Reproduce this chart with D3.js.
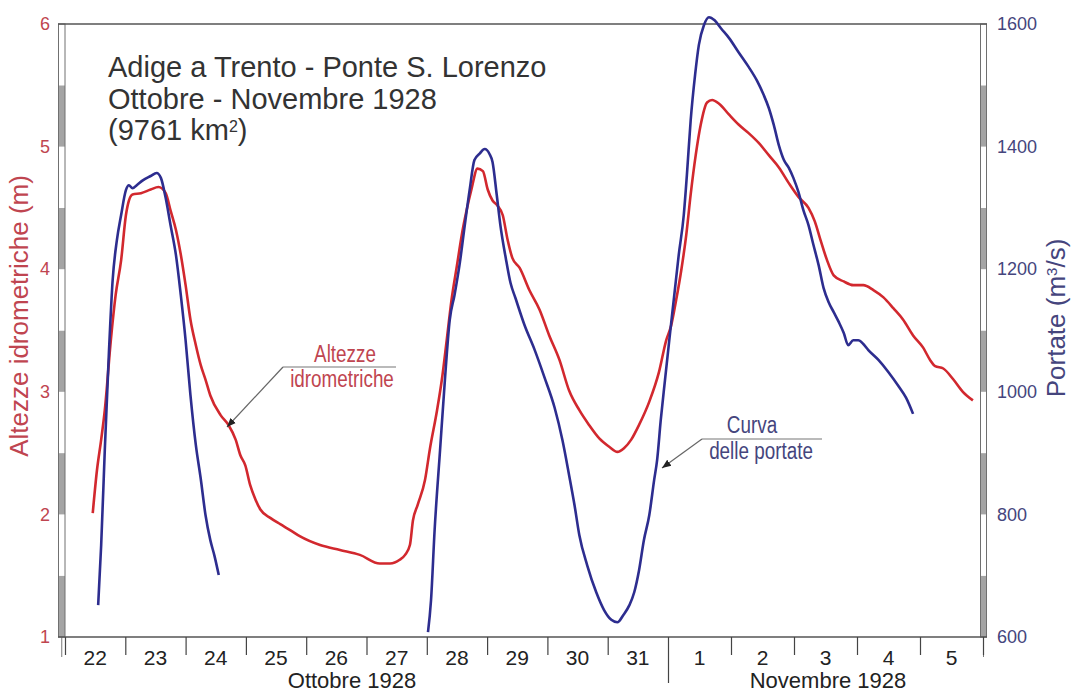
<!DOCTYPE html>
<html>
<head>
<meta charset="utf-8">
<script src="https://cdn.jsdelivr.net/npm/d3@7"></script>
<style>
  html, body { margin: 0; padding: 0; background: #fff; }
  svg { display: block; font-family: Arial, "Liberation Sans", sans-serif; }
</style>
</head>
<body>
<svg id="chart" width="1072" height="693"></svg>
<script>
// Gauge heights (m): time in days from 22 Oct 1928 00:00
const altezzeGiorno = [0.46,0.53,0.60,0.66,0.76,0.84,0.93,1.01,1.06,1.12,1.26,1.42,1.55,1.67,1.75,1.84,1.92,2.00,2.08,2.17,2.25,2.33,2.41,2.58,2.71,2.83,2.91,2.99,3.07,3.16,3.24,3.41,3.57,3.74,3.90,4.23,4.56,4.89,5.22,5.39,5.55,5.64,5.72,5.77,5.85,5.97,6.05,6.17,6.25,6.33,6.41,6.50,6.58,6.66,6.74,6.84,6.93,7.01,7.09,7.17,7.26,7.34,7.42,7.54,7.70,7.87,8.03,8.20,8.36,8.53,8.69,8.86,9.03,9.16,9.27,9.39,9.52,9.69,9.85,9.97,10.05,10.13,10.21,10.29,10.36,10.44,10.52,10.62,10.70,10.81,10.97,11.12,11.28,11.44,11.60,11.76,11.92,12.07,12.23,12.33,12.42,12.52,12.63,12.79,12.94,13.10,13.26,13.42,13.58,13.73,13.89,14.05,14.16,14.24,14.37,14.53,14.68,14.84];
const altezzeM = [2.01,2.36,2.61,2.85,3.42,3.79,4.07,4.44,4.56,4.61,4.62,4.65,4.67,4.62,4.48,4.32,4.12,3.87,3.59,3.38,3.22,3.10,2.97,2.81,2.73,2.61,2.48,2.40,2.24,2.12,2.04,1.97,1.92,1.87,1.82,1.75,1.71,1.67,1.60,1.60,1.63,1.67,1.75,1.95,2.08,2.28,2.53,2.85,3.10,3.42,3.75,4.03,4.28,4.48,4.65,4.82,4.80,4.65,4.56,4.52,4.44,4.24,4.09,4.01,3.83,3.67,3.46,3.26,3.01,2.85,2.73,2.62,2.55,2.51,2.54,2.61,2.73,2.92,3.16,3.42,3.54,3.75,3.99,4.28,4.61,4.93,5.18,5.36,5.38,5.35,5.26,5.18,5.11,5.03,4.93,4.83,4.70,4.59,4.50,4.39,4.24,4.08,3.95,3.90,3.87,3.87,3.83,3.77,3.68,3.59,3.46,3.36,3.26,3.21,3.19,3.10,3.00,2.93];

// Discharge (m³/s), first flood wave
const portateGiorno1 = [0.55,0.60,0.66,0.73,0.79,0.86,0.93,1.01,1.06,1.12,1.19,1.29,1.42,1.52,1.59,1.67,1.75,1.84,1.92,2.00,2.08,2.17,2.25,2.33,2.41,2.48,2.55];
const portateQ1 = [652,750,905,1068,1182,1247,1288,1329,1337,1332,1337,1345,1352,1357,1349,1316,1272,1223,1158,1084,995,913,859,799,758,732,701];

// Discharge (m³/s), second and third flood waves
const portateGiorno2 = [6.02,6.07,6.13,6.22,6.30,6.38,6.46,6.55,6.63,6.71,6.79,6.88,6.96,7.04,7.09,7.16,7.22,7.31,7.39,7.47,7.62,7.79,7.95,8.12,8.25,8.36,8.45,8.53,8.66,8.81,8.94,9.06,9.16,9.26,9.36,9.44,9.52,9.60,9.69,9.77,9.82,9.88,9.95,10.02,10.10,10.17,10.25,10.30,10.36,10.43,10.49,10.57,10.65,10.74,10.84,10.97,11.12,11.28,11.41,11.52,11.60,11.68,11.76,11.84,11.92,11.99,12.07,12.15,12.23,12.31,12.39,12.47,12.55,12.63,12.71,12.79,12.86,12.94,13.02,13.10,13.18,13.34,13.50,13.66,13.78,13.89];
const portateQ2 = [608,660,775,905,1019,1117,1158,1212,1272,1329,1378,1389,1396,1388,1375,1321,1272,1218,1177,1153,1109,1068,1024,974,921,864,815,766,717,673,644,628,624,636,652,673,709,758,799,856,889,954,1019,1084,1158,1223,1288,1354,1443,1517,1566,1598,1611,1606,1593,1577,1554,1530,1508,1484,1463,1435,1402,1378,1365,1349,1326,1296,1272,1239,1207,1169,1146,1130,1114,1096,1076,1084,1084,1078,1068,1052,1032,1009,990,964];

// Axis labels
const giorniOttobre = ["22","23","24","25","26","27","28","29","30","31"];
const giorniNovembre = ["1","2","3","4","5"];
const altezzeTicks = [1, 2, 3, 4, 5, 6];
const portateTicks = [600, 800, 1000, 1200, 1400, 1600];
const titolo = ["Adige a Trento - Ponte S. Lorenzo", "Ottobre - Novembre 1928"];

const svg = d3.select("#chart");
const DAY = 864e5;
const t0 = Date.UTC(1928, 9, 22);
const toDate = d => new Date(t0 + d * DAY);

const frameL = 65, frameR = 983, frameT = 24, frameB = 637;

const x = d3.scaleUtc()
  .domain([toDate(0), toDate(10), toDate(15)])
  .range([frameL, 668, frameR]);
const yH = d3.scaleLinear().domain([1, 6]).range([frameB, frameT]);
const yQ = d3.scaleLinear().domain([600, 1600]).range([frameB, frameT]);

const RED = "#d2282e", BLUE = "#2d2d8f";
const RED_TXT = "#bf4550", BLUE_TXT = "#45457d";

// Scale bars on the two vertical axes (alternating half-interval blocks)
function scaleBar(x0, w, scale, step, grayStart) {
  const g = svg.append("g");
  const [lo, hi] = scale.domain();
  d3.range(lo, hi, step).forEach((v, i) => {
    g.append("rect")
      .attr("x", x0).attr("width", w)
      .attr("y", scale(v + step)).attr("height", scale(v) - scale(v + step))
      .attr("fill", (i % 2 === 0) === grayStart ? "#a4a4a4" : "#ffffff");
  });
  g.append("rect")
    .attr("x", x0).attr("width", w)
    .attr("y", scale(hi)).attr("height", scale(lo) - scale(hi))
    .attr("fill", "none").attr("stroke", "#707070").attr("stroke-width", 1);
  g.append("line")
    .attr("x1", x0 + w / 2).attr("x2", x0 + w / 2)
    .attr("y1", scale(lo)).attr("y2", scale(lo) + 20)
    .attr("stroke", "#777").attr("stroke-width", 1);
  return g;
}
scaleBar(58.5, 6.5, yH, 0.5, true);
scaleBar(980.5, 6, yQ, 100, true);

// Frame
svg.append("line").attr("x1", 58).attr("x2", 987).attr("y1", frameT).attr("y2", frameT)
  .attr("stroke", "#555").attr("stroke-width", 1.5);
svg.append("line").attr("x1", 58).attr("x2", 987).attr("y1", frameB).attr("y2", frameB)
  .attr("stroke", "#555").attr("stroke-width", 1.5);

// Left axis (gauge height)
const axL = svg.append("g").attr("transform", "translate(58,0)")
  .call(d3.axisLeft(yH).tickValues(altezzeTicks).tickSize(0).tickPadding(8).tickFormat(d3.format("d")));
axL.select(".domain").remove();
axL.selectAll("text").attr("fill", RED_TXT).attr("font-size", 18).attr("font-family", "Arial, 'Liberation Sans', sans-serif");

// Right axis (discharge)
const axR = svg.append("g").attr("transform", "translate(987,0)")
  .call(d3.axisRight(yQ).tickValues(portateTicks).tickSize(0).tickPadding(10).tickFormat(d3.format("d")));
axR.select(".domain").remove();
axR.selectAll("text").attr("fill", BLUE_TXT).attr("font-size", 18).attr("font-family", "Arial, 'Liberation Sans', sans-serif");

// Bottom axis: day boundaries
const confini = d3.range(0, 16).map(toDate);
const axB = svg.append("g").attr("transform", `translate(0,${frameB})`)
  .call(d3.axisBottom(x).tickValues(confini).tickSize(18).tickSizeOuter(0).tickFormat(""));
axB.select(".domain").remove();
axB.selectAll(".tick line").attr("stroke", "#444").attr("stroke-width", 1.2)
  .filter(d => +d === +toDate(10)).attr("y2", 46);

// Day labels at mid-day
const giorni = giorniOttobre.concat(giorniNovembre);
svg.append("g").selectAll("text").data(giorni).join("text")
  .attr("x", (d, i) => x(toDate(i + 0.5)))
  .attr("y", 665)
  .attr("text-anchor", "middle")
  .attr("font-size", 21)
  .attr("fill", "#222")
  .text(d => d);

// Month labels
svg.append("text").attr("x", 352).attr("y", 688).attr("text-anchor", "middle")
  .attr("font-size", 22).attr("fill", "#222").text("Ottobre 1928");
svg.append("text").attr("x", 828).attr("y", 688).attr("text-anchor", "middle")
  .attr("font-size", 22).attr("fill", "#222").text("Novembre 1928");

// Axis titles
svg.append("text")
  .attr("transform", "translate(28,316) rotate(-90)")
  .attr("text-anchor", "middle").attr("font-size", 26).attr("fill", RED_TXT)
  .text("Altezze idrometriche (m)");
const tR = svg.append("text")
  .attr("transform", "translate(1065,318) rotate(-90)")
  .attr("text-anchor", "middle").attr("font-size", 26).attr("fill", BLUE_TXT);
tR.append("tspan").text("Portate (m");
tR.append("tspan").attr("baseline-shift", "super").attr("font-size", 15).text("3");
tR.append("tspan").text("/s)");

// Title block
const tt = svg.append("g").attr("fill", "#333").attr("font-size", 29);
titolo.forEach((s, i) => tt.append("text").attr("x", 108).attr("y", 77 + i * 31.5).text(s));
const t3 = tt.append("text").attr("x", 108).attr("y", 140);
t3.append("tspan").text("(9761 km");
t3.append("tspan").attr("baseline-shift", "super").attr("font-size", 16).text("2");
t3.append("tspan").text(")");

// Series
const lineH = d3.line().x(d => x(toDate(d[0]))).y(d => yH(d[1])).curve(d3.curveMonotoneX);
const lineQ = d3.line().x(d => x(toDate(d[0]))).y(d => yQ(d[1])).curve(d3.curveMonotoneX);

svg.append("path")
  .datum(d3.zip(altezzeGiorno, altezzeM))
  .attr("d", lineH).attr("fill", "none").attr("stroke", RED).attr("stroke-width", 2.6)
  .attr("stroke-linejoin", "round");
[d3.zip(portateGiorno1, portateQ1), d3.zip(portateGiorno2, portateQ2)].forEach(s => {
  svg.append("path").datum(s)
    .attr("d", lineQ).attr("fill", "none").attr("stroke", BLUE).attr("stroke-width", 2.6)
    .attr("stroke-linejoin", "round");
});

// Callouts
svg.append("defs").append("marker")
  .attr("id", "freccia").attr("viewBox", "0 0 10 10").attr("refX", 10).attr("refY", 5)
  .attr("markerWidth", 9).attr("markerHeight", 9).attr("markerUnits", "userSpaceOnUse")
  .attr("orient", "auto")
  .append("path").attr("d", "M0,1 L10,5 L0,9 Z").attr("fill", "#222");

function callout(lx1, lx2, ly, tipX, tipY, righe, colore) {
  const g = svg.append("g");
  g.append("line").attr("x1", lx1).attr("x2", lx2).attr("y1", ly).attr("y2", ly)
    .attr("stroke", "#777").attr("stroke-width", 1.2);
  g.append("line").attr("x1", lx1).attr("y1", ly).attr("x2", tipX).attr("y2", tipY)
    .attr("stroke", "#666").attr("stroke-width", 1.2).attr("marker-end", "url(#freccia)");
  righe.forEach(r => {
    g.append("text")
      .attr("transform", `translate(${r.x},${r.y}) scale(0.82,1)`)
      .attr("text-anchor", "middle").attr("font-size", 23).attr("fill", colore)
      .text(r.t);
  });
}
callout(283, 396, 367, 227, 427,
  [{ t: "Altezze", x: 345, y: 362 }, { t: "idrometriche", x: 342, y: 387 }], RED_TXT);
callout(702, 822, 439, 662, 468,
  [{ t: "Curva", x: 752, y: 433 }, { t: "delle portate", x: 761, y: 459 }], BLUE_TXT);
</script>
</body>
</html>
